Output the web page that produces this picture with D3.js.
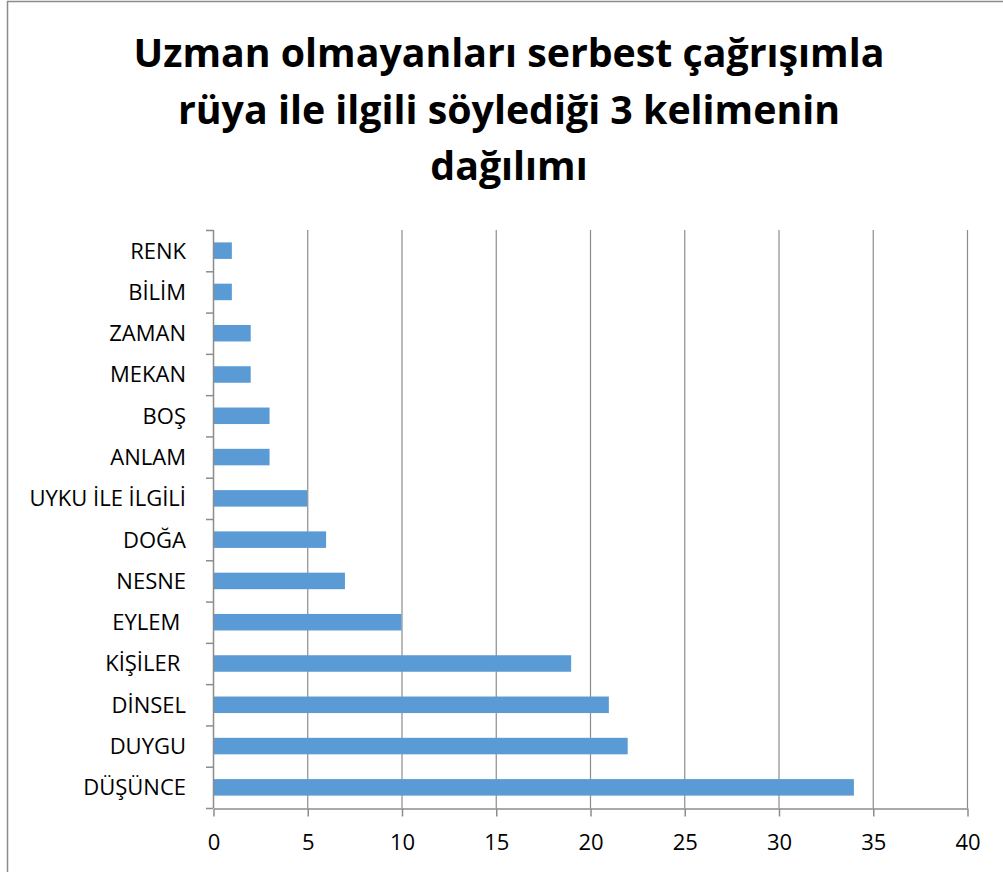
<!DOCTYPE html>
<html>
<head>
<meta charset="utf-8">
<script src="https://cdn.jsdelivr.net/npm/d3@7"></script>
<style>
  body { margin: 0; background: #fff; }
  svg { display: block; font-family: "Open Sans", "Noto Sans", sans-serif; }
</style>
</head>
<body>
<div id="app"></div>
<script>
// data, top to bottom as drawn
const categories = ['RENK', 'BİLİM', 'ZAMAN', 'MEKAN', 'BOŞ', 'ANLAM', 'UYKU İLE İLGİLİ',
  'DOĞA', 'NESNE', 'EYLEM ', 'KİŞİLER ', 'DİNSEL', 'DUYGU', 'DÜŞÜNCE'];
const counts = [1, 1, 2, 2, 3, 3, 5, 6, 7, 10, 19, 21, 22, 34];
const xTicks = [0, 5, 10, 15, 20, 25, 30, 35, 40];
const titleLines = ['Uzman olmayanları serbest çağrışımla', 'rüya ile ilgili söylediği 3 kelimenin', 'dağılımı'];

const svgWidth = 1003;
const svgHeight = 872;
const margin = { top: 230, bottom: 64, left: 213, right: 36 };

const svg = d3.select('#app')
  .append('svg')
  .attr('width', svgWidth)
  .attr('height', svgHeight);

// chart frame
svg.append('rect')
  .attr('x', 7.5).attr('y', 1.5)
  .attr('width', svgWidth + 20).attr('height', svgHeight + 20)
  .attr('fill', 'none')
  .attr('stroke', '#8c8c8c')
  .attr('stroke-width', 1.5);

// title
svg.append('g')
  .selectAll('text')
  .data(titleLines)
  .join('text')
  .attr('x', 509)
  .attr('y', (d, i) => 67 + i * 56.5)
  .attr('text-anchor', 'middle')
  .attr('font-size', 39.3)
  .attr('font-weight', 'bold')
  .attr('fill', '#000')
  .text(d => d);

const xScale = d3.scaleLinear()
  .domain([0, 40])
  .range([margin.left, svgWidth - margin.right]);

const yScale = d3.scaleBand()
  .domain(categories)
  .range([margin.top, svgHeight - margin.bottom])
  .paddingInner(0.6)
  .paddingOuter(0.3);

const plotBottom = svgHeight - margin.bottom;
const gridColor = '#8c8c8c';

// vertical gridlines
svg.append('g')
  .selectAll('line')
  .data(xTicks.slice(1))
  .join('line')
  .attr('x1', d => xScale(d) + 0.5)
  .attr('x2', d => xScale(d) + 0.5)
  .attr('y1', margin.top)
  .attr('y2', plotBottom)
  .attr('stroke', gridColor)
  .attr('stroke-width', 1.2);

// bars
svg.append('g')
  .selectAll('rect')
  .data(counts)
  .join('rect')
  .attr('x', xScale(0))
  .attr('y', (d, i) => yScale(categories[i]))
  .attr('width', d => xScale(d) - xScale(0))
  .attr('height', yScale.bandwidth())
  .attr('fill', '#5b9bd5');

// x axis
const xAxis = d3.axisBottom(xScale)
  .tickValues(xTicks)
  .tickSize(8)
  .tickPadding(18)
  .tickSizeOuter(0);

const gx = svg.append('g')
  .attr('transform', `translate(0.5, ${plotBottom + 0.5})`)
  .call(xAxis);
gx.select('.domain').attr('stroke', gridColor).attr('stroke-width', 1.5);
gx.selectAll('.tick line').attr('stroke', gridColor).attr('stroke-width', 1.5);
gx.selectAll('.tick text')
  .attr('font-size', 22)
  .attr('font-family', '"Open Sans", "Noto Sans", sans-serif')
  .attr('fill', '#000');

// y axis: ticks sit on band boundaries
const step = yScale.step();
const bounds = d3.range(categories.length + 1).map(i => margin.top + i * step);

const gy = svg.append('g');
gy.append('line')
  .attr('x1', xScale(0) + 0.5).attr('x2', xScale(0) + 0.5)
  .attr('y1', margin.top).attr('y2', plotBottom)
  .attr('stroke', gridColor).attr('stroke-width', 1.5);
gy.selectAll('line.tk')
  .data(bounds)
  .join('line')
  .attr('class', 'tk')
  .attr('x1', xScale(0) - 7).attr('x2', xScale(0))
  .attr('y1', d => d + 0.5).attr('y2', d => d + 0.5)
  .attr('stroke', gridColor).attr('stroke-width', 1.5);

// category labels keep their trailing spaces, as in the original
svg.append('g')
  .selectAll('text')
  .data(categories)
  .join('text')
  .attr('x', xScale(0) - 27)
  .attr('y', d => yScale(d) + yScale.bandwidth() / 2)
  .attr('dy', '0.36em')
  .attr('text-anchor', 'end')
  .attr('font-size', 22)
  .attr('fill', '#000')
  .style('white-space', 'pre')
  .text(d => d);
</script>
</body>
</html>
